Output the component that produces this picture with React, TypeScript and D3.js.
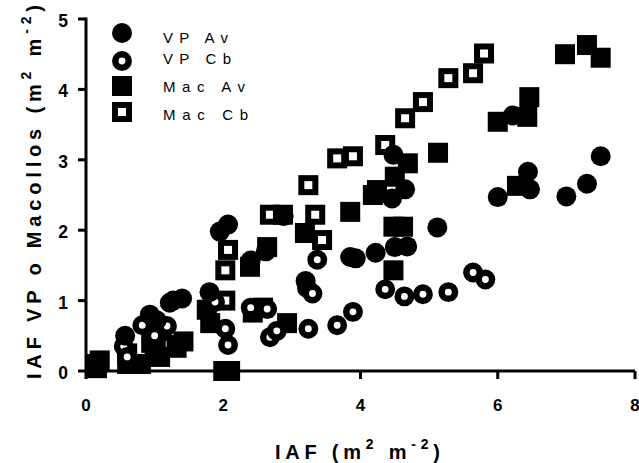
import React from "react";
import * as d3 from "d3";

const vpAv: [number, number][] = [
  [0.15, 0.1], [0.57, 0.5], [0.93, 0.8], [1.03, 0.72], [1.27, 1.0], [1.4, 1.03],
  [1.8, 1.12], [1.95, 1.98], [2.07, 2.08], [2.4, 1.57], [2.62, 1.7], [2.88, 2.2],
  [3.2, 1.28], [3.85, 1.62], [3.93, 1.6], [4.22, 1.68], [4.5, 1.76], [4.68, 1.77],
  [4.46, 2.45], [4.65, 2.58], [4.48, 3.07], [5.12, 2.04], [6.0, 2.47], [6.22, 3.63],
  [6.44, 2.83], [6.47, 2.58], [7.0, 2.48], [7.3, 2.66], [7.5, 3.05],
];
const vpCb: [number, number][] = [
  [0.15, 0.05], [0.55, 0.35], [0.6, 0.2], [0.82, 0.65], [1.0, 0.5], [1.18, 0.64],
  [1.22, 0.97], [1.88, 0.98], [2.03, 0.6], [2.07, 0.37], [2.4, 0.9], [2.64, 0.88],
  [2.68, 0.48], [2.78, 0.57], [3.22, 1.18], [3.3, 1.1], [3.24, 0.6], [3.37, 1.58],
  [3.66, 0.65], [3.89, 0.84], [4.36, 1.16], [4.64, 1.06], [4.91, 1.09], [5.28, 1.12],
  [5.64, 1.4], [5.82, 1.3],
];
const macAv: [number, number][] = [
  [0.16, 0.04], [0.2, 0.15], [0.6, 0.1], [0.8, 0.1], [1.0, 0.3], [1.08, 0.2],
  [1.32, 0.33], [1.42, 0.42], [1.76, 0.87], [1.81, 0.68], [2.0, 0.0], [2.1, 0.0],
  [2.39, 1.48], [2.43, 0.83], [2.58, 0.9], [2.87, 2.22], [2.93, 0.68], [3.19, 1.96],
  [3.85, 2.26], [4.18, 2.5], [4.24, 2.57], [4.5, 2.76], [4.69, 2.95], [5.13, 3.1],
  [4.48, 2.05], [4.62, 2.05], [4.48, 1.43], [6.0, 3.54], [6.43, 3.61], [6.46, 3.89],
  [6.28, 2.63], [6.98, 4.5], [7.3, 4.63], [7.5, 4.45],
];
const macCb: [number, number][] = [
  [0.15, 0.1], [0.6, 0.25], [0.95, 0.4], [1.05, 0.6], [1.22, 0.37], [2.03, 1.0],
  [2.03, 1.43], [2.07, 1.72], [2.64, 1.76], [2.68, 2.22], [3.24, 2.64], [3.34, 2.22],
  [3.44, 1.86], [3.66, 3.02], [3.89, 3.05], [4.36, 3.21], [4.65, 3.59], [4.91, 3.82],
  [5.28, 4.16], [5.64, 4.23], [5.8, 4.51],
];
const seriesNames = ["VP Av", "VP Cb", "Mac Av", "Mac Cb"];
const xTicks = [0, 2, 4, 6, 8];
const yTicks = [0, 1, 2, 3, 4, 5];

const W = 639;
const H = 463;
const x = d3.scaleLinear().domain([0, 8]).range([86, 635]);
const y = d3.scaleLinear().domain([0, 5]).range([371, 19]);

const font = "'Liberation Sans', Arial, sans-serif";

function Marker({ kind, cx, cy }: { kind: number; cx: number; cy: number }) {
  if (kind === 0) return <circle cx={cx} cy={cy} r={10} fill="#000" />;
  if (kind === 1)
    return <circle cx={cx} cy={cy} r={6.7} fill="#fff" stroke="#000" strokeWidth={6.5} />;
  if (kind === 2) return <rect x={cx - 10} y={cy - 10} width={20} height={20} fill="#000" />;
  return (
    <rect x={cx - 7} y={cy - 7} width={14} height={14} fill="#fff" stroke="#000" strokeWidth={6} />
  );
}

const legendMarkerY = [33, 61, 86, 112];
const legendTextY = [43, 64, 92, 120];
const legendTextLen = [65, 68, 82, 85];

export default function App() {
  const all = [vpAv, vpCb, macAv, macCb];
  const drawOrder = [3, 2, 1, 0];
  return (
    <svg width={W} height={H} style={{ position: "absolute", left: 0, top: 0, background: "#fff" }}>
      <rect width={W} height={H} fill="#fff" />
      {drawOrder.map((k) =>
        all[k].map((d, i) => <Marker key={k + "-" + i} kind={k} cx={x(d[0])} cy={y(d[1])} />)
      )}
      <line x1={x(0)} x2={x(8)} y1={y(0)} y2={y(0)} stroke="#000" strokeWidth={3} />
      <line x1={x(0)} x2={x(0)} y1={y(0) + 1.5} y2={y(5) - 1.5} stroke="#000" strokeWidth={3} />
      {xTicks.map((t) => (
        <g key={"x" + t}>
          <line x1={x(t)} x2={x(t)} y1={y(0)} y2={y(0) + 8} stroke="#000" strokeWidth={3} />
          <text x={x(t)} y={411} textAnchor="middle" fontFamily={font} fontWeight="bold" fontSize={17}>
            {t}
          </text>
        </g>
      ))}
      {yTicks.map((t) => (
        <g key={"y" + t}>
          <line x1={x(0) - 8} x2={x(0)} y1={y(t)} y2={y(t)} stroke="#000" strokeWidth={3} />
          <text x={68} y={y(t) + 8} textAnchor="end" fontFamily={font} fontWeight="bold" fontSize={17.5}>
            {t}
          </text>
        </g>
      ))}
      {seriesNames.map((n, i) => (
        <g key={n}>
          <Marker kind={i} cx={122} cy={legendMarkerY[i]} />
          <text
            x={163}
            y={legendTextY[i]}
            fontFamily={font}
            fontSize={15}
            textLength={legendTextLen[i]}
            lengthAdjust="spacing"
          >
            {n}
          </text>
        </g>
      ))}
      <text
        x={275}
        y={459}
        fontFamily={font}
        fontWeight="bold"
        fontSize={20}
        textLength={165}
        lengthAdjust="spacing"
      >
        IAF (m
        <tspan dy={-10} fontSize={14}>2</tspan>
        <tspan dy={10}> m</tspan>
        <tspan dy={-10} fontSize={14}>-2</tspan>
        <tspan dy={10}>)</tspan>
      </text>
      <text
        transform="translate(41,379) rotate(-90)"
        fontFamily={font}
        fontWeight="bold"
        fontSize={20}
        textLength={374}
        lengthAdjust="spacing"
      >
        IAF VP o Macollos (m
        <tspan dy={-10} fontSize={14}>2</tspan>
        <tspan dy={10}> m</tspan>
        <tspan dy={-10} fontSize={14}>-2</tspan>
        <tspan dy={10}>)</tspan>
      </text>
    </svg>
  );
}
